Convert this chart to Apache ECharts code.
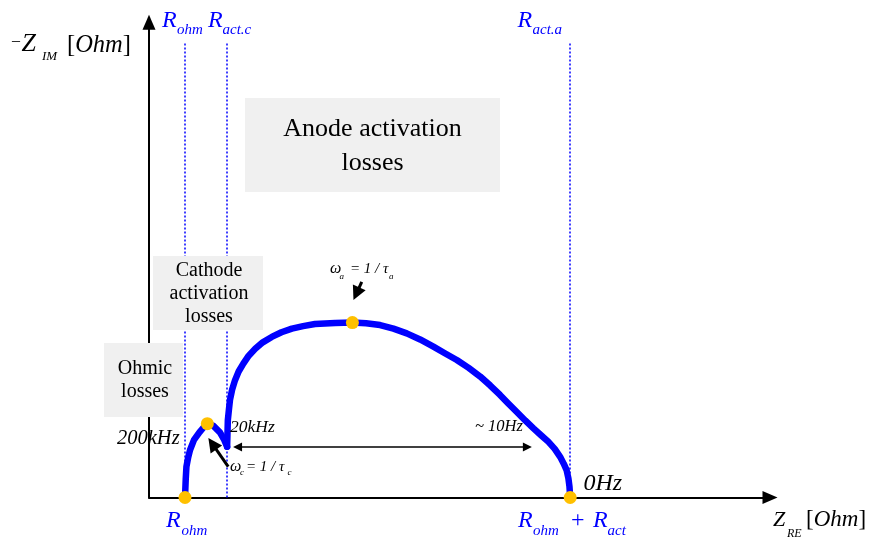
<!DOCTYPE html>
<html>
<head>
<meta charset="utf-8">
<script src="https://cdn.jsdelivr.net/npm/echarts@6/dist/echarts.min.js"></script>
<style>
  html, body { margin: 0; padding: 0; background: #ffffff; }
  #chart { width: 877px; height: 540px; }
</style>
</head>
<body>
<div id="chart"></div>
<script>
// Nyquist impedance spectrum of a cell: small cathode arc followed by the large anode arc.
// Units on both axes are Ohm (schematic scale).

// Cathode activation arc (Z_RE, -Z_IM)
const cathodeRe = [10.0, 10.1, 10.2, 10.4, 10.9, 11.4, 12.5, 14.0, 15.6, 16.2, 17.9, 19.7, 20.9, 21.7];
const cathodeIm = [0.0, 2.5, 5.0, 8.6, 11.2, 13.2, 16.0, 18.1, 20.0, 20.5, 19.9, 18.1, 16.0, 14.1];

// Anode activation arc (Z_RE, -Z_IM)
const anodeRe = [21.7, 21.8, 21.9, 22.2, 22.5, 23.1, 23.9, 24.9, 26.2, 27.7, 29.5, 31.6, 34.1, 36.8, 39.7, 42.8, 46.1, 51.7, 56.5, 60.3, 64.2, 67.9, 71.6, 75.3, 79.0, 82.3, 85.5, 88.8, 92.0, 94.8, 97.5, 99.8, 102.1, 104.5, 106.8, 108.9, 110.9, 112.7, 114.2, 115.2, 116.0, 116.5, 116.8, 117.0];
const anodeIm = [14.1, 17.8, 21.5, 24.4, 27.1, 30.0, 32.6, 35.0, 37.2, 39.4, 41.3, 43.1, 44.6, 45.9, 46.9, 47.6, 48.2, 48.5, 48.6, 48.4, 47.9, 46.9, 45.6, 43.9, 41.9, 40.0, 38.2, 36.0, 33.6, 31.1, 28.5, 26.1, 23.8, 21.4, 19.2, 17.3, 15.5, 13.5, 11.3, 9.4, 7.6, 5.3, 3.0, 0.0];

// Characteristic points: R_ohm, cathode peak (omega_c), anode peak (omega_a), R_ohm + R_act
const markerRe = [10.0, 16.2, 56.5, 117.0];
const markerIm = [0.0, 20.5, 48.6, 0.0];

// Resistance guide lines: R_ohm, R_act.c, R_act.a
const guideRe = [10.0, 21.7, 117.0];
const guideTopIm = 126.3;

// Annotation arrows (start, end) in axis units
const spanArrow = [[24.6, 14.0], [105.1, 14.0]];
const omegaAArrow = [[59.1, 59.9], [57.6, 56.6]];
const omegaCArrow = [[22.0, 8.6], [17.6, 14.9]];

// Axis extents
const reMax = 172.5;
const imMax = 132;

const SERIF = "'Liberation Serif', 'Times New Roman', serif";
const BLUE = '#0000FF';
const GOLD = '#FFC000';
const BOX = '#F0F0F0';

const zip = (xs, ys) => xs.map((x, i) => [x, ys[i]]);

// text helper: left/center x, alphabetic baseline y
function txt(str, x, base, size, opt) {
  opt = opt || {};
  const style = {
    text: str,
    fontFamily: SERIF,
    fontSize: size,
    fontStyle: opt.italic ? 'italic' : 'normal',
    fill: opt.color || '#000000',
    align: opt.align || 'left',
    verticalAlign: 'middle'
  };
  if (opt.rich) style.rich = opt.rich;
  return { type: 'text', x: x, y: base - 0.33 * size, z: 30, silent: true, style: style };
}
function box(x, y, w, h) {
  return { type: 'rect', z: 20, silent: true, shape: { x: x, y: y, width: w, height: h }, style: { fill: BOX } };
}
// "[Ohm]" with upright brackets and italic unit
function unit(x, base, size) {
  const r = {
    u: { fontFamily: SERIF, fontSize: size, fontStyle: 'normal', fill: '#000000' },
    i: { fontFamily: SERIF, fontSize: size, fontStyle: 'italic', fill: '#000000' }
  };
  return txt('{u|[}{i|Ohm}{u|]}', x, base, size, { rich: r });
}

const I = { italic: true };
const IB = { italic: true, color: BLUE };

const graphics = [
  // loss region boxes
  box(245, 98, 255, 94),
  box(153, 256, 110, 74),
  box(104, 343, 79, 74),
  txt('Anode activation', 372.5, 138, 26, { align: 'center' }),
  txt('losses', 372.5, 172, 26, { align: 'center' }),
  txt('Cathode', 209, 277, 20, { align: 'center' }),
  txt('activation', 209, 300, 20, { align: 'center' }),
  txt('losses', 209, 323, 20, { align: 'center' }),
  txt('Ohmic', 145, 375, 20, { align: 'center' }),
  txt('losses', 145, 398, 20, { align: 'center' }),

  // resistance labels on top
  txt('R', 162, 29, 24, IB), txt('ohm', 177, 35.5, 15, IB),
  txt('R', 208, 29, 24, IB), txt('act.c', 222.5, 35.5, 15, IB),
  txt('R', 517.5, 28.5, 24, IB), txt('act.a', 532.5, 35, 15, IB),

  // resistance labels below the real axis
  txt('R', 166, 529, 24, IB), txt('ohm', 181.5, 536, 15, IB),
  txt('R', 518, 529, 24, IB), txt('ohm', 533, 536, 15, IB),
  txt('+', 571, 529, 24, { color: BLUE }),
  txt('R', 593, 529, 24, IB), txt('act', 607.5, 536, 15, IB),

  // axis titles
  txt('\u2013', 12, 46, 16),
  txt('Z', 21.5, 52.7, 26, I), txt('IM', 42, 60.5, 13, I),
  unit(67, 53.5, 24.5),
  txt('Z', 773, 527, 22, I), txt('RE', 787, 538, 12, I),
  unit(806, 528, 23),

  // frequencies
  txt('200kHz', 117, 445, 20.5, I),
  txt('20kHz', 230, 433, 17.5, I),
  txt('~ 10Hz', 475, 432.5, 16.5, I),
  txt('0Hz', 583.5, 492, 24, I),

  // time constants
  txt('\u03c9', 230, 471.7, 16, I), txt('c', 240, 475.7, 9, I),
  txt('= 1 / \u03c4', 246, 471.7, 15, I), txt('c', 287.5, 475.7, 9, I),
  txt('\u03c9', 330, 274, 16, I), txt('a', 339.5, 280, 9, I),
  txt('= 1 / \u03c4', 350, 274, 15, I), txt('a', 389, 280, 9, I)
];

const axisCommon = {
  type: 'value',
  axisLine: {
    show: true,
    onZero: false,
    symbol: ['none', 'triangle'],
    symbolSize: [13, 15],
    lineStyle: { color: '#000000', width: 2 }
  },
  axisTick: { show: false },
  axisLabel: { show: false },
  splitLine: { show: false }
};

const arcStyle = { color: BLUE, width: 6.5, cap: 'round', join: 'round' };

const option = {
  animation: false,
  backgroundColor: '#ffffff',
  grid: { left: 149, right: 107, top: 22.3, bottom: 42.5, containLabel: false },
  xAxis: Object.assign({}, axisCommon, { min: 0, max: reMax }),
  yAxis: Object.assign({}, axisCommon, { min: 0, max: imMax }),
  graphic: graphics,
  series: [
    {
      type: 'lines',
      coordinateSystem: 'cartesian2d',
      z: 1,
      symbol: ['none', 'none'],
      lineStyle: { color: BLUE, width: 1.5, type: [2, 2], opacity: 1 },
      data: guideRe.map(r => ({ coords: [[r, 0], [r, guideTopIm]] }))
    },
    {
      type: 'line',
      name: 'cathode',
      data: zip(cathodeRe, cathodeIm),
      smooth: false,
      showSymbol: false,
      z: 3,
      lineStyle: arcStyle
    },
    {
      type: 'line',
      name: 'anode',
      data: zip(anodeRe, anodeIm),
      smooth: false,
      showSymbol: false,
      z: 3,
      lineStyle: arcStyle
    },
    {
      type: 'lines',
      coordinateSystem: 'cartesian2d',
      z: 4,
      symbol: ['triangle', 'triangle'],
      symbolSize: 9,
      lineStyle: { color: '#000000', width: 1.5, opacity: 1 },
      data: [{ coords: spanArrow }]
    },
    {
      type: 'lines',
      coordinateSystem: 'cartesian2d',
      z: 4,
      symbol: ['none', 'triangle'],
      symbolSize: 14,
      lineStyle: { color: '#000000', width: 3, opacity: 1 },
      data: [{ coords: omegaAArrow }, { coords: omegaCArrow }]
    },
    {
      type: 'scatter',
      data: zip(markerRe, markerIm),
      symbol: 'circle',
      symbolSize: 13,
      z: 5,
      itemStyle: { color: GOLD, opacity: 1 }
    }
  ]
};

const chart = echarts.init(document.getElementById('chart'), null, { renderer: 'canvas' });
chart.setOption(option);
</script>
</body>
</html>
